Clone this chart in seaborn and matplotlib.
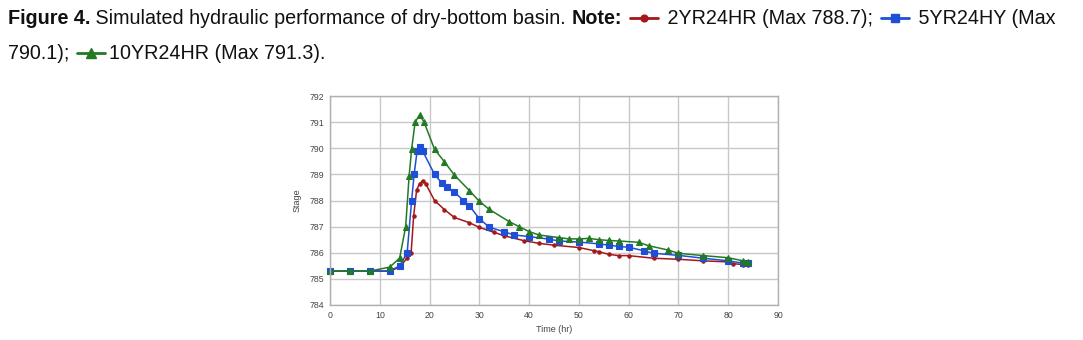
import matplotlib
matplotlib.use("Agg")
import matplotlib.pyplot as plt
import seaborn as sns
import pandas as pd
from matplotlib.lines import Line2D

# ---- data ----
red_x = [0, 4, 8, 12, 14, 15.5, 16.3, 16.8, 17.4, 18.0, 18.6, 19.2, 21, 23, 25, 28, 30, 33, 35, 39, 42,
         45, 50, 53, 54, 56, 58, 60, 65, 70, 75, 80, 81, 83, 84]
red_y = [785.3, 785.3, 785.3, 785.3, 785.45, 785.8, 786.0, 787.4, 788.4, 788.65, 788.75, 788.65, 788.0,
         787.65, 787.35, 787.15, 786.97, 786.78, 786.65, 786.46, 786.36, 786.29, 786.2, 786.08, 786.04,
         785.94, 785.89, 785.89, 785.79, 785.75, 785.69, 785.65, 785.58, 785.55, 785.55]

blue_x = [0, 4, 8, 12, 14, 15.5, 16.4, 16.9, 17.5, 18.0, 18.6, 21, 22.4, 23.5, 25, 26.8, 28, 30, 32, 35,
          37, 40, 44, 46, 50, 54, 56, 58, 60, 63, 65, 70, 75, 80, 83, 84]
blue_y = [785.3, 785.3, 785.3, 785.3, 785.5, 786.0, 788.0, 789.0, 789.9, 790.05, 789.9, 789.0, 788.68,
          788.5, 788.32, 788.0, 787.8, 787.3, 786.98, 786.8, 786.68, 786.62, 786.52, 786.45, 786.41,
          786.34, 786.29, 786.24, 786.21, 786.08, 785.98, 785.9, 785.79, 785.69, 785.6, 785.6]

green_x = [0, 4, 8, 12, 14, 15.2, 15.9, 16.4, 17.1, 18.0, 18.9, 21, 23, 25, 28, 30, 32, 36, 38, 40, 42,
           46, 48, 50, 52, 54, 56, 58, 62, 64, 68, 70, 75, 80, 83, 84]
green_y = [785.3, 785.3, 785.3, 785.45, 785.8, 787.0, 788.95, 789.97, 791.0, 791.28, 791.0, 789.96,
           789.48, 788.97, 788.38, 787.97, 787.66, 787.19, 787.0, 786.81, 786.68, 786.58, 786.53,
           786.53, 786.55, 786.5, 786.47, 786.45, 786.4, 786.27, 786.1, 785.98, 785.89, 785.81,
           785.69, 785.65]

x_ticks = [0, 10, 20, 30, 40, 50, 60, 70, 80, 90]
y_ticks = [784, 785, 786, 787, 788, 789, 790, 791, 792]

series_names = ["2YR24HR", "5YR24HY", "10YR24HR"]
colors = ["#a31818", "#1f4fd6", "#237a23"]
markers = ["o", "s", "^"]
msizes = [2.4, 3.8, 4.3]

sns.set_theme(style="whitegrid")
plt.rcParams["font.family"] = ["Liberation Sans", "DejaVu Sans"]

fig = plt.figure(figsize=(10.83, 3.40), dpi=100)
ax = fig.add_axes([330 / 1083, 1 - 305 / 340, 448 / 1083, 209 / 340])

for name, xs, ys, c, m, ms in zip(series_names, [red_x, blue_x, green_x], [red_y, blue_y, green_y],
                                  colors, markers, msizes):
    df = pd.DataFrame({"x": xs, "y": ys})
    sns.lineplot(data=df, x="x", y="y", ax=ax, color=c, marker=m, markersize=ms,
                 markeredgecolor=c, markeredgewidth=0.8, linewidth=1.1, sort=False,
                 estimator=None, clip_on=False)

ax.set_xlim(0, 90)
ax.set_ylim(784, 792)
ax.set_xticks(x_ticks)
ax.set_yticks(y_ticks)
ax.tick_params(axis="both", labelsize=6.3, colors="#444444", length=0, pad=4)
ax.grid(True, color="#c8c8c8", linewidth=1.0)
for s in ax.spines.values():
    s.set_color("#b0b0b0")
    s.set_linewidth(1.0)
ax.set_xlabel("Time (hr)", fontsize=6.5, color="#444444", labelpad=4)
ax.set_ylabel("Stage", fontsize=6.5, color="#444444", labelpad=6)

# ---- caption with inline legend symbols ----
fs = 14.2
renderer = fig.canvas.get_renderer()
W, H = fig.get_size_inches() * fig.dpi


def put_text(x, y, s, bold=False):
    t = fig.text(x / W, 1 - y / H, s, fontsize=fs, fontweight="bold" if bold else "normal",
                 color="#111111", ha="left", va="baseline")
    bb = t.get_window_extent(renderer=renderer)
    return x + bb.width


def put_symbol(x, y, idx):
    yy = 1 - (y - 6) / H
    ln = Line2D([(x + 2) / W, (x + 30) / W], [yy, yy], transform=fig.transFigure,
                color=colors[idx], linewidth=2.0)
    mk = Line2D([(x + 16) / W], [yy], transform=fig.transFigure, color=colors[idx],
                marker=markers[idx], markersize=msizes[idx] + 2.5, linestyle="none")
    fig.add_artist(ln)
    fig.add_artist(mk)
    return x + 34


y1, y2 = 24, 59
x = 8
x = put_text(x, y1, "Figure 4.", bold=True)
x = put_text(x, y1, " Simulated hydraulic performance of dry-bottom basin. ")
x = put_text(x, y1, "Note:", bold=True)
x += 6
x = put_symbol(x, y1, 0)
x = put_text(x, y1, " 2YR24HR (Max 788.7); ")
x = put_symbol(x, y1, 1)
x = put_text(x, y1, " 5YR24HY (Max")
x = 8
x = put_text(x, y2, "790.1); ")
x = put_symbol(x, y2, 2)
x = put_text(x, y2, "10YR24HR (Max 791.3).")

fig.savefig("out.png", dpi=100)
